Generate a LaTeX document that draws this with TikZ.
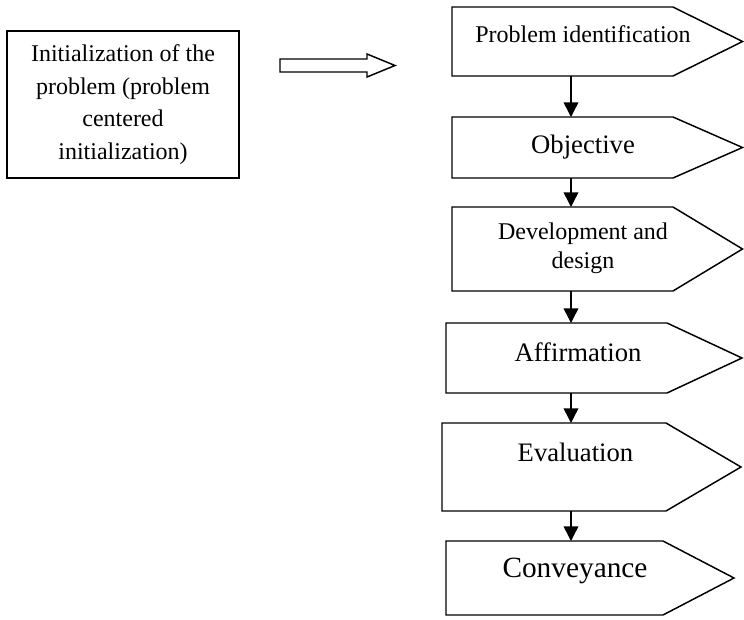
\documentclass[tikz,border=0pt]{standalone}
\usepackage{fontspec}
\setmainfont{Liberation Serif}
\usetikzlibrary{arrows.meta}

\begin{document}
\begin{tikzpicture}[x=0.75pt,y=-0.75pt,
    box/.style={draw=black, line width=1.1pt, inner sep=0pt, align=center},
    body/.style={inner sep=0pt, outer sep=0pt, anchor=north west},
    outline/.style={draw=black, line width=1.1pt, line join=miter},
    flow/.style={draw=black, line width=1.1pt, -{Triangle[length=11pt,width=11pt]}},
    lbl/.style={inner sep=0pt, align=center}]
  \useasboundingbox (0,0) rectangle (744,619);

  % starting point
  \node[box, minimum width=174pt, minimum height=110.25pt, font=\fontsize{18}{24.5}\selectfont] (init) at (123,104.5) {Initialization of the\\problem (problem\\centered\\initialization)};

  % hollow arrow
  \coordinate (push) at (280,65.5);
  \coordinate (pushend) at (395,65.5);
  \draw[outline] (push) ++(0,-6.5) -- ++(87,0) -- ++(0,-5) -- (pushend) -- ++(-28,11.5) -- ++(0,-5) -- ++(-87,0) -- cycle;

  % stages
  \node[body, minimum width=165.75pt, minimum height=51.75pt] (pid) at (452,7) {};
  \draw[outline] (pid.north west) -- (pid.north east) -- (742.5,41.5) -- (pid.south east) -- (pid.south west) -- cycle;
  \node[lbl, font=\fontsize{18}{22}\selectfont] (pidtext) at (583,34) {Problem identification};

  \node[body, minimum width=165.75pt, minimum height=45.75pt] (obj) at (452,117) {};
  \draw[outline] (obj.north west) -- (obj.north east) -- (742.5,147.5) -- (obj.south east) -- (obj.south west) -- cycle;
  \node[lbl, font=\fontsize{20}{24}\selectfont] (objtext) at (583,147) {Objective};

  \node[body, minimum width=165.75pt, minimum height=63pt] (dev) at (452,207) {};
  \draw[outline] (dev.north west) -- (dev.north east) -- (742.5,249) -- (dev.south east) -- (dev.south west) -- cycle;
  \node[lbl, font=\fontsize{18}{21.75}\selectfont] (devtext) at (583,248.5) {Development and\\design};

  \node[body, minimum width=165.75pt, minimum height=52.5pt] (aff) at (446,323) {};
  \draw[outline] (aff.north west) -- (aff.north east) -- (742,358) -- (aff.south east) -- (aff.south west) -- cycle;
  \node[lbl, font=\fontsize{20}{24}\selectfont] (afftext) at (578,352) {Affirmation};

  \node[body, minimum width=168pt, minimum height=66pt] (eva) at (442,423) {};
  \draw[outline] (eva.north west) -- (eva.north east) -- (741,467) -- (eva.south east) -- (eva.south west) -- cycle;
  \node[lbl, font=\fontsize{20}{24}\selectfont] (evatext) at (575.5,452) {Evaluation};

  \node[body, minimum width=162.75pt, minimum height=55.5pt] (con) at (446,541) {};
  \draw[outline] (con.north west) -- (con.north east) -- (734,578) -- (con.south east) -- (con.south west) -- cycle;
  \node[lbl, font=\fontsize{22}{26}\selectfont] (context) at (575,571) {Conveyance};

  % flow
  \coordinate (spine) at (571,0);
  \draw[flow] (pid.south -| spine) -- (obj.north -| spine);
  \draw[flow] (obj.south -| spine) -- (dev.north -| spine);
  \draw[flow] (dev.south -| spine) -- (aff.north -| spine);
  \draw[flow] (aff.south -| spine) -- (eva.north -| spine);
  \draw[flow] (eva.south -| spine) -- (con.north -| spine);
\end{tikzpicture}
\end{document}
